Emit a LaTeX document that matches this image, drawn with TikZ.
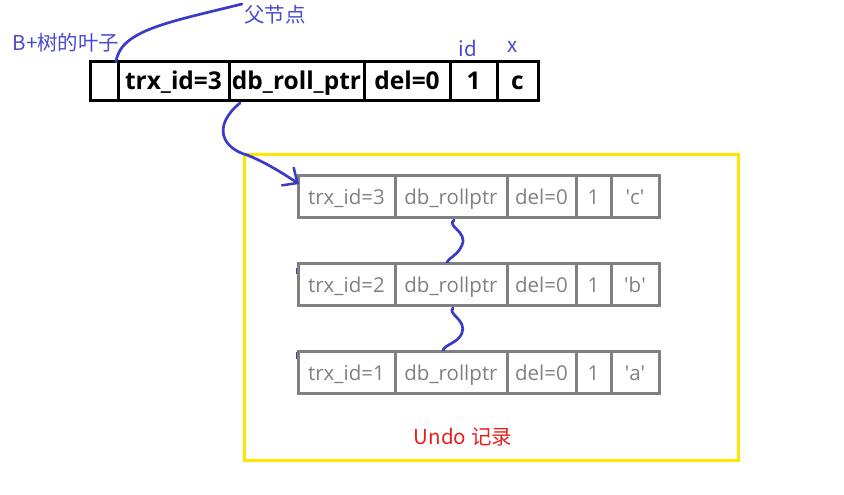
\documentclass[tikz,border=0pt]{standalone}
\usepackage{fontspec}
\setmainfont{Open Sans}
\newfontfamily\cjk{Noto Sans CJK SC}
\usetikzlibrary{arrows.meta,calc}
\definecolor{penc}{HTML}{3B3BC8}
\definecolor{lblc}{HTML}{4A4AD0}
\definecolor{cellgray}{HTML}{808080}
\definecolor{yboxc}{HTML}{FFE600}
\definecolor{redtxt}{HTML}{E8201E}
\begin{document}
\begin{tikzpicture}[x=1pt,y=-1pt,
  topcell/.style={draw=black,line width=3pt,inner sep=0pt,outer sep=0pt,minimum height=39pt,text height=17pt,text depth=0pt,font=\fontsize{24.5}{28}\selectfont\bfseries},
  ucell/.style={draw=cellgray,line width=3pt,inner sep=0pt,outer sep=0pt,minimum height=42pt,text height=17pt,text depth=0pt,text=cellgray,font=\fontsize{20.5}{24}\selectfont},
  pen/.style={draw=penc,line width=2.7pt,line cap=round,line join=round},
  lbl/.style={text=lblc,font=\cjk\fontsize{20.5}{24}\selectfont,inner sep=0pt}
]
\useasboundingbox (0,0) rectangle (844,495);
% yellow undo frame
\node[draw=yboxc,line width=3pt,minimum width=494pt,minimum height=306pt,inner sep=0pt] (frame) at (491,307) {};
% top leaf record
\node[topcell,minimum width=28pt] (e0) at (104,81.5) {};
\node[topcell,minimum width=111pt] (e1) at (173.5,81.5) {trx\_id=3};
\node[topcell,minimum width=135pt] (e2) at (296.5,81.5) {db\_roll\_ptr};
\node[topcell,minimum width=86pt] (e3) at (407,81.5) {del=0};
\node[topcell,minimum width=47pt] (e4) at (473.5,81.5) {1};
\node[topcell,minimum width=41pt] (e5) at (517.5,81.5) {c};
% labels
\node[lbl] (lid) at (468,48) {id};
\node[lbl] (lx) at (513,47) {x};
\node[lbl] (leaf) at (66,43) {B+树的叶子};
\node[lbl] (parent) at (275,15) {父节点};
\node[text=redtxt,font=\cjk\fontsize{20.5}{24}\selectfont,inner sep=0pt] (undo) at (463,437) {Undo 记录};
% undo records
\foreach \r/\y/\t/\v in {1/196/3/c,2/284/2/b,3/372/1/a}{
  \node[ucell,minimum width=97pt] (u\r a) at (346.5,\y) {trx\_id=\t};
  \node[ucell,minimum width=112pt] (u\r b) at (451,\y) {db\_rollptr};
  \node[ucell,minimum width=69pt] (u\r c) at (541.5,\y) {del=0};
  \node[ucell,minimum width=35pt] (u\r d) at (593.5,\y) {1};
  \node[ucell,minimum width=48pt] (u\r e) at (635,\y) {\textquotesingle\v\textquotesingle};
}
% connectors
\coordinate (ptop) at (242,4);
\draw[pen] ($(e0.north east)+(-2,0)$) .. controls (120,30) and (170,22) .. (ptop);
\coordinate (tip) at ($(u1a.north west)+(1,9)$);
\draw[pen,-{Straight Barb[length=12pt,width=22pt,line width=2.5pt]}]
  ($(e2.south west)+(11,2)$) .. controls (212,126) and (222,148) .. (247,155)
  .. controls (265,162) and (284,174) .. (tip);
\draw[pen] ($(u1b.south)+(3,3)$) .. controls (446,226) and (468,232) .. (462,245)
  .. controls (458,255) and (450,257) .. ($(u2b.north)+(-4,-1)$);
\draw[pen] ($(u2b.south)+(2,3)$) .. controls (447,314) and (467,320) .. (462,333)
  .. controls (458,343) and (446,344) .. ($(u3b.north)+(-8,-1)$);
% tiny leftover marks
\draw[penc,line width=1pt] (296,268) -- (296,274);
\draw[penc,line width=1pt] (296,352) -- (296,359);
\end{tikzpicture}
\end{document}
